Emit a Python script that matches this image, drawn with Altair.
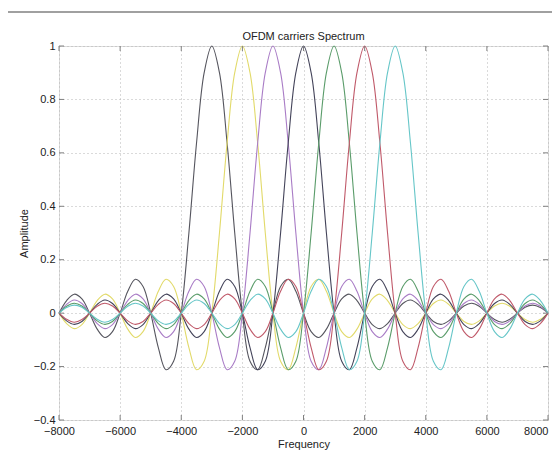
import altair as alt
import pandas as pd

# Carrier centre frequencies (Hz) and their line colours
carriers = ["c-3000", "c-2000", "c-1000", "c0", "c1000", "c2000", "c3000"]
centers = [-3000, -2000, -1000, 0, 1000, 2000, 3000]
colors = ["#55555e", "#e2da6a", "#a97cc6", "#44445a", "#5a9c6a", "#c05a6a", "#66c6c8"]

# One carrier's spectral shape read at 250 Hz steps away from its centre (0 .. 11000 Hz)
step_hz = 250
shape = [1.000, 0.900, 0.637, 0.300, 0.000, -0.180, -0.212, -0.129, 0.000,
         0.100, 0.127, 0.082, 0.000, -0.069, -0.091, -0.060, 0.000,
         0.053, 0.071, 0.047, 0.000, -0.043, -0.058, -0.039, 0.000,
         0.036, 0.049, 0.033, 0.000, -0.031, -0.042, -0.029, 0.000,
         0.027, 0.037, 0.026, 0.000, -0.024, -0.034, -0.023, 0.000,
         0.022, 0.030, 0.021, 0.000]

x_ticks = [-8000, -6000, -4000, -2000, 0, 2000, 4000, 6000, 8000]
y_ticks = [-0.4, -0.2, 0, 0.2, 0.4, 0.6, 0.8, 1]
title_text = ["OFDM carriers Spectrum"]

rows = []
n = len(shape)
for name, c in zip(carriers, centers):
    for k in range(-(n - 1), n):
        f = c + k * step_hz
        if -8000 <= f <= 8000:
            rows.append({"carrier": name, "freq": f, "amp": shape[abs(k)]})
df = pd.DataFrame(rows)

font = "Liberation Sans"
txt = "#222222"
frame = "#808080"
grid_color = "#b4b4b4"

xscale = alt.Scale(domain=[-8000, 8000], nice=False, zero=False)
yscale = alt.Scale(domain=[-0.4, 1], nice=False, zero=False)

lines = alt.Chart(df).mark_line(strokeWidth=1.1, interpolate="catmull-rom").encode(
    x=alt.X("freq:Q", scale=xscale,
            axis=alt.Axis(values=x_ticks, format="d", title="Frequency",
                          grid=True, gridDash=[1, 3], gridColor=grid_color,
                          ticks=False, labelPadding=5, titlePadding=2,
                          labelFlush=False, labelOverlap=False,
                          labelAlign=alt.condition("datum.value == 8000",
                                                   alt.value("right"),
                                                   alt.value("center")),
                          domain=False, labelFont=font, titleFont=font,
                          labelFontSize=11, titleFontSize=11,
                          labelColor=txt, titleColor=txt,
                          titleFontWeight="normal")),
    y=alt.Y("amp:Q", scale=yscale,
            axis=alt.Axis(values=y_ticks, format=".1~f", title="Amplitude",
                          grid=True, gridDash=[1, 3], gridColor=grid_color,
                          ticks=False, labelPadding=4, titlePadding=4,
                          labelFlush=False, labelOverlap=False,
                          domain=False, labelFont=font, titleFont=font,
                          labelFontSize=11, titleFontSize=11,
                          labelColor=txt, titleColor=txt,
                          titleFontWeight="normal")),
    color=alt.Color("carrier:N", scale=alt.Scale(domain=carriers, range=colors),
                    legend=None),
)

xt = pd.DataFrame({"xv": x_ticks})
yt = pd.DataFrame({"yv": y_ticks})
tick_style = dict(color=frame, strokeWidth=1)
xticks_bottom = alt.Chart(xt).mark_rule(**tick_style).encode(
    x=alt.X("xv:Q", scale=xscale), y=alt.value(374), y2=alt.value(369))
xticks_top = alt.Chart(xt).mark_rule(**tick_style).encode(
    x=alt.X("xv:Q", scale=xscale), y=alt.value(0), y2=alt.value(5))
yticks_left = alt.Chart(yt).mark_rule(**tick_style).encode(
    y=alt.Y("yv:Q", scale=yscale), x=alt.value(0), x2=alt.value(5))
yticks_right = alt.Chart(yt).mark_rule(**tick_style).encode(
    y=alt.Y("yv:Q", scale=yscale), x=alt.value(489), x2=alt.value(484))

top_rule = alt.Chart(pd.DataFrame({"a": [0]})).mark_rule(
    color=frame, strokeWidth=1.5, clip=False
).encode(x=alt.value(-51), x2=alt.value(493), y=alt.value(-34))

title = alt.Chart(pd.DataFrame({"t": title_text})).mark_text(
    font=font, fontSize=11, color=txt, baseline="alphabetic", align="center",
    clip=False
).encode(text="t:N", x=alt.value(244.5), y=alt.value(-6))

chart = alt.layer(lines, xticks_bottom, xticks_top, yticks_left, yticks_right,
                  top_rule, title).properties(
    width=489,
    height=374,
    padding={"left": 51, "top": 38, "right": 4, "bottom": 30},
    autosize=alt.AutoSizeParams(type="none"),
).configure_view(
    stroke=frame, strokeWidth=1
).configure(background="white")

chart.save("out.html", embed_options={"renderer": "svg", "actions": False})
